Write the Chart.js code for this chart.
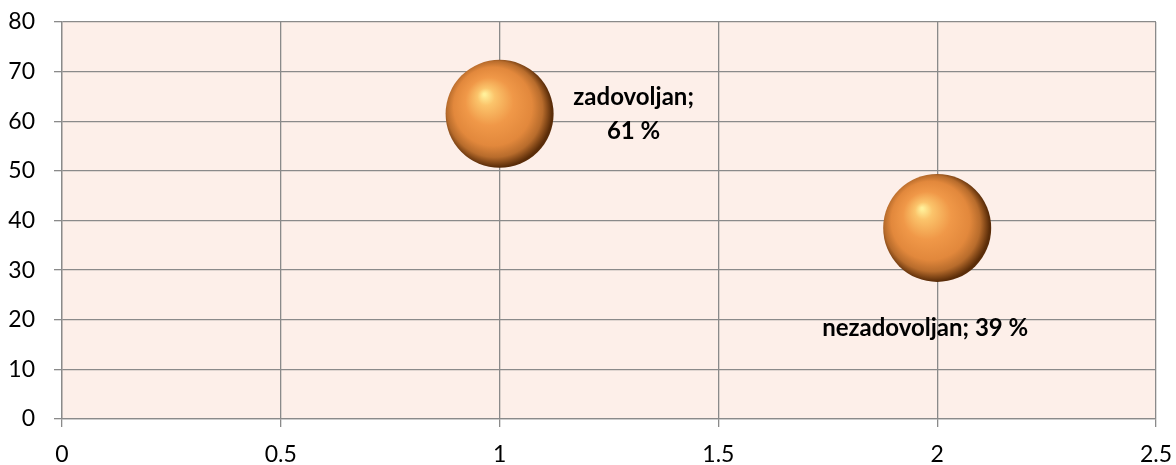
<!DOCTYPE html>
<html>
<head>
<meta charset="utf-8">
<script src="https://cdn.jsdelivr.net/npm/chart.js@4.4.1/dist/chart.umd.min.js"></script>
<style>
html,body{margin:0;padding:0;background:#fff;}
#wrap{width:1176px;height:465px;position:relative;}
</style>
</head>
<body>
<div id="wrap"><canvas id="c" width="1176" height="465"></canvas></div>
<script>
// Data
const categories = ["zadovoljan", "nezadovoljan"];
const xValues = [1, 2];
const yValues = [61.5, 38.5];
const bubbleSizes = [54, 54];
const percentLabels = ["61 %", "39 %"];
const xTicks = [0, 0.5, 1, 1.5, 2, 2.5];
const yTicks = [0, 10, 20, 30, 40, 50, 60, 70, 80];

const FONT = "Lato, 'Open Sans', 'DejaVu Sans', sans-serif";

function sphereFill(ctx) {
  const chart = ctx.chart;
  if (ctx.type !== 'data' || !chart.scales || !chart.scales.x || !chart.scales.y) return '#ee9a4a';
  const raw = ctx.raw;
  const cx = chart.scales.x.getPixelForValue(raw.x);
  const cy = chart.scales.y.getPixelForValue(raw.y);
  const r = raw.r;
  if (!isFinite(cx) || !isFinite(cy) || !isFinite(r)) return '#ee9a4a';
  const g = chart.ctx.createRadialGradient(cx - r*0.28, cy - r*0.36, r*0.02, cx - r*0.06, cy - r*0.04, r*1.03);
  g.addColorStop(0, '#fff09a');
  g.addColorStop(0.14, '#fbc46b');
  g.addColorStop(0.42, '#f09848');
  g.addColorStop(0.7, '#e2883c');
  g.addColorStop(0.86, '#b86c2c');
  g.addColorStop(1, '#5a2c08');
  return g;
}

const labelOffsets = [
  {dx: 134, lines: [{t: categories[0] + ';', dy: -8.8}, {t: percentLabels[0], dy: 25.5}]},
  {dx: -12, lines: [{t: categories[1] + '; ' + percentLabels[1], dy: 108}]}
];

const labelPlugin = {
  id: 'bubbleLabels',
  afterDatasetsDraw(chart) {
    const meta = chart.getDatasetMeta(0);
    const c = chart.ctx;
    c.save();
    c.font = "bold 24px " + FONT;
    c.fillStyle = '#000';
    c.textAlign = 'center';
    c.textBaseline = 'alphabetic';
    meta.data.forEach((el, i) => {
      const o = labelOffsets[i];
      o.lines.forEach(l => c.fillText(l.t, el.x + o.dx, el.y + l.dy));
    });
    c.restore();
  }
};

const bgPlugin = {
  id: 'plotBg',
  beforeDraw(chart) {
    const a = chart.chartArea;
    const c = chart.ctx;
    c.save();
    c.fillStyle = '#fdefe9';
    c.fillRect(a.left, a.top, a.right - a.left, a.bottom - a.top);
    c.restore();
  }
};

function zeroPad(s) { s.paddingTop = 0; s.paddingBottom = 0; s.paddingLeft = 0; s.paddingRight = 0; }

const chart = new Chart(document.getElementById('c'), {
  type: 'bubble',
  data: {
    datasets: [{
      label: 'series',
      data: xValues.map((x, i) => ({x: x, y: yValues[i], r: bubbleSizes[i]})),
      backgroundColor: sphereFill,
      hoverBackgroundColor: sphereFill,
      borderWidth: 0,
      hoverBorderWidth: 0
    }]
  },
  options: {
    responsive: false,
    animation: false,
    events: [],
    layout: {autoPadding: false, padding: {top: 22, right: 20, left: 0, bottom: 0}},
    plugins: {legend: {display: false}, tooltip: {enabled: false}},
    scales: {
      x: {
        type: 'linear', min: 0, max: 2.5,
        afterBuildTicks: s => { s.ticks = xTicks.map(v => ({value: v})); },
        afterFit: s => { s.height = 46; zeroPad(s); },
        ticks: {color: '#000', font: {family: FONT, size: 23}, padding: 14, maxRotation: 0,
          callback: v => String(v)},
        grid: {color: '#8a8a8a', lineWidth: 1.3, tickLength: 8, drawTicks: true},
        border: {color: '#8a8a8a', width: 1.3}
      },
      y: {
        type: 'linear', min: 0, max: 80,
        afterBuildTicks: s => { s.ticks = yTicks.map(v => ({value: v})); },
        afterFit: s => { s.width = 62; zeroPad(s); },
        ticks: {color: '#000', font: {family: FONT, size: 23}, padding: 19,
          callback: v => String(v)},
        grid: {color: '#8a8a8a', lineWidth: 1.3, tickLength: 8, drawTicks: true},
        border: {color: '#8a8a8a', width: 1.3}
      }
    }
  },
  plugins: [bgPlugin, labelPlugin]
});
chart.update();
</script>
</body>
</html>
